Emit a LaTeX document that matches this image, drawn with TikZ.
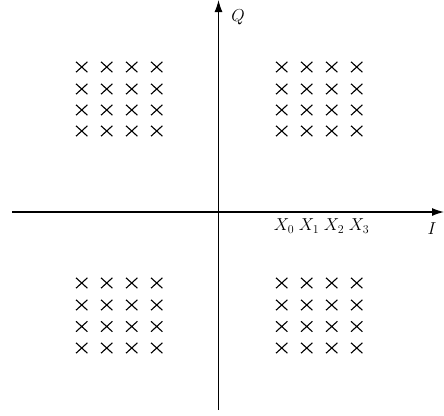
\documentclass[tikz,border=0pt]{standalone}
\usetikzlibrary{arrows.meta}
\begin{document}
\begin{tikzpicture}[x=1pt,y=-1pt,
  axis/.style={line width=1.2pt,-{Latex[length=12pt,width=8pt]}},
  crossmark/.style={line width=1.1pt},
  lab/.style={inner sep=0pt,font=\fontsize{18}{21}\selectfont}]
\useasboundingbox (0,0) rectangle (444,415);
\coordinate (xl) at (12,212);
\coordinate (xr) at (444,212);
\coordinate (yb) at (218.5,410);
\coordinate (yt) at (218.5,0);
\draw[axis] (xl) -- (xr);
\draw[axis] (yb) -- (yt);
\node[lab] (Q) at (238,17) {$Q$};
\node[lab] (I) at (432,229) {$I$};
\foreach \i/\x in {0/284,1/309,2/334,3/359}
  \node[lab] (X\i) at (\x,226) {$X_\i$};
\foreach \x in {81.7,106.7,131.7,156.7,281.7,306.7,331.7,356.7}
  \foreach \y in {67,89,110,131,283,305,326.5,348}
    \draw[crossmark] (\x-5.7,\y-5.2) -- (\x+5.7,\y+5.2)
                     (\x-5.7,\y+5.2) -- (\x+5.7,\y-5.2);
\end{tikzpicture}
\end{document}
